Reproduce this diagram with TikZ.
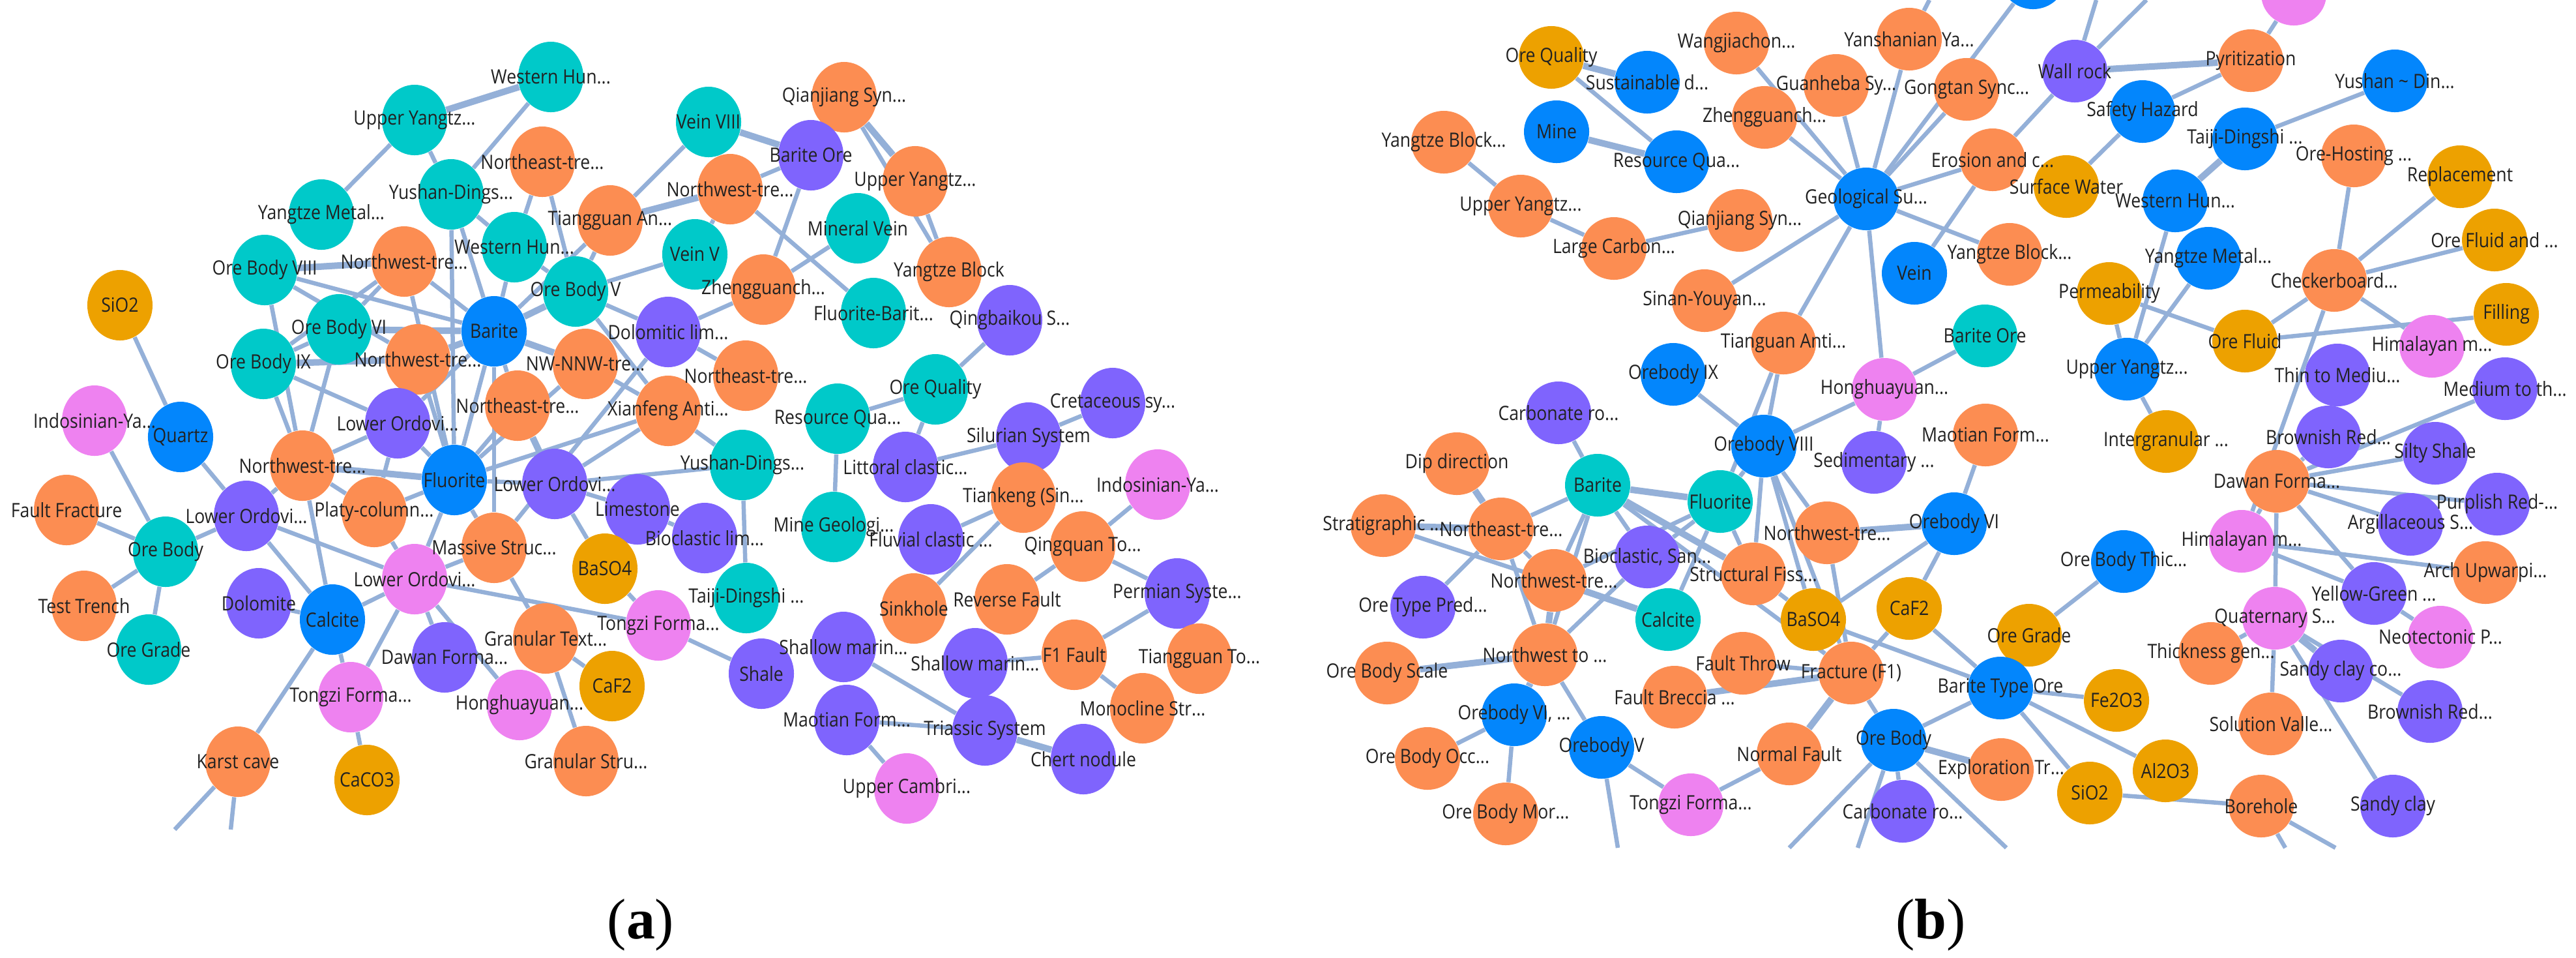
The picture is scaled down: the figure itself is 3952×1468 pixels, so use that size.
\documentclass[tikz,border=0pt]{standalone}
\usepackage{fontspec}
\setmainfont{Open Sans}[FakeStretch=0.88]
\newfontfamily\serifpl{Liberation Serif}
\usetikzlibrary{shapes.geometric}
\pgfdeclarelayer{back}\pgfdeclarelayer{bg}\pgfdeclarelayer{fg}
\pgfsetlayers{back,bg,main,fg}
\definecolor{cor}{HTML}{FC8D52}
\definecolor{cte}{HTML}{00C9C9}
\definecolor{cbl}{HTML}{0386FC}
\definecolor{cpu}{HTML}{7F64FD}
\definecolor{cpi}{HTML}{EE82F0}
\definecolor{cgo}{HTML}{EDA100}
\definecolor{cedge}{HTML}{94B0D8}
\definecolor{ctext}{HTML}{222222}
\tikzset{
 na/.style={ellipse, minimum width=1cm, minimum height=1.08cm, inner sep=0pt, draw=none},
 nb/.style={ellipse, minimum width=1cm, minimum height=0.96cm, inner sep=0pt, draw=none},
 lbl/.style={inner sep=0pt, text=ctext, font=\fontsize{8.6pt}{10pt}\selectfont},
 ed/.style={draw=cedge, line width=0.065cm},
 edt/.style={draw=cedge, line width=0.1cm},
 plab/.style={inner sep=0pt, font=\serifpl\fontsize{25pt}{30pt}\selectfont},
}
\newcommand\NA[5]{\node[na,fill=#4] (#1) at (#2,#3) {};
 \begin{pgfonlayer}{fg}\node[lbl] (#1l) at (#1.center) {#5};\end{pgfonlayer}}
\newcommand\NB[5]{\node[nb,fill=#4] (#1) at (#2,#3) {};
 \begin{pgfonlayer}{fg}\node[lbl] (#1l) at (#1.center) {#5};\end{pgfonlayer}}
\begin{document}
\begin{tikzpicture}[x=0.01cm,y=-0.01cm]
\useasboundingbox (0,0) rectangle (3952,1468);
\begin{pgfonlayer}{back}\fill[white] (0,0) rectangle (3952,1468);\end{pgfonlayer}
% ---------------- panel (a) ----------------
\NA{a1}{845}{118}{cte}{Western Hun...}
\NA{a2}{636}{184}{cte}{Upper Yangtz...}
\NA{a3}{832}{248}{cor}{Northeast-tre...}
\NA{a4}{692}{298}{cte}{Yushan-Dings...}
\NA{a5}{493}{329}{cte}{Yangtze Metal...}
\NA{a6}{936}{338}{cor}{Tiangguan An...}
\NA{a7}{789}{379}{cte}{Western Hun...}
\NA{a8}{406}{414}{cte}{Ore Body VIII}
\NA{a9}{620}{401}{cor}{Northwest-tre...}
\NA{a10}{184}{468}{cgo}{SiO2}
\NA{a11}{883}{447}{cte}{Ore Body V}
\NA{a12}{758}{508}{cbl}{Barite}
\NA{a13}{520}{505}{cte}{Ore Body VI}
\NA{a14}{641}{551}{cor}{Northwest-tre...}
\NA{a15}{404}{558}{cte}{Ore Body IX}
\NA{a16}{898}{558}{cor}{NW-NNW-tre...}
\NA{a17}{1025}{509}{cpu}{Dolomitic lim...}
\NA{a18}{794}{622}{cor}{Northeast-tre...}
\NA{a19}{610}{649}{cpu}{Lower Ordovi...}
\NA{a20}{145}{645}{cpi}{Indosinian-Ya...}
\NA{a21}{277}{670}{cbl}{Quartz}
\NA{a22}{1025}{630}{cor}{Xianfeng Anti...}
\NA{a23}{1295}{149}{cor}{Qianjiang Syn...}
\NA{a24}{1087}{187}{cte}{Vein VIII}
\NA{a25}{1244}{238}{cpu}{Barite Ore}
\NA{a26}{1404}{278}{cor}{Upper Yangtz...}
\NA{a27}{1120}{290}{cor}{Northwest-tre...}
\NA{a28}{1316}{350}{cte}{Mineral Vein}
\NA{a29}{1066}{390}{cte}{Vein V}
\NA{a30}{1456}{417}{cor}{Yangtze Block}
\NA{a31}{1171}{444}{cor}{Zhengguanch...}
\NA{a32}{1340}{480}{cte}{Fluorite-Barit...}
\NA{a33}{1549}{491}{cpu}{Qingbaikou S...}
\NA{a34}{1144}{576}{cor}{Northeast-tre...}
\NA{a35}{1435}{597}{cte}{Ore Quality}
\NA{a36}{1707}{618}{cpu}{Cretaceous sy...}
\NA{a37}{1285}{642}{cte}{Resource Qua...}
\NA{a38}{464}{714}{cor}{Northwest-tre...}
\NA{a39}{697}{736}{cbl}{Fluorite}
\NA{a40}{851}{742}{cpu}{Lower Ordovi...}
\NA{a41}{978}{781}{cpu}{Limestone}
\NA{a42}{102}{782}{cor}{Fault Fracture}
\NA{a43}{378}{791}{cpu}{Lower Ordovi...}
\NA{a44}{574}{785}{cor}{Platy-column...}
\NA{a45}{254}{846}{cte}{Ore Body}
\NA{a46}{758}{840}{cor}{Massive Struc...}
\NA{a47}{928}{872}{cgo}{BaSO4}
\NA{a48}{636}{888}{cpi}{Lower Ordovi...}
\NA{a49}{129}{929}{cor}{Test Trench}
\NA{a50}{397}{925}{cpu}{Dolomite}
\NA{a51}{510}{950}{cbl}{Calcite}
\NA{a52}{228}{996}{cte}{Ore Grade}
\NA{a53}{837}{979}{cor}{Granular Text...}
\NA{a54}{1010}{959}{cpi}{Tongzi Forma...}
\NA{a55}{682}{1008}{cpu}{Dawan Forma...}
\NA{a56}{939}{1052}{cgo}{CaF2}
\NA{a57}{538}{1069}{cpi}{Tongzi Forma...}
\NA{a58}{797}{1081}{cpi}{Honghuayuan...}
\NA{a59}{365}{1168}{cor}{Karst cave}
\NA{a60}{563}{1196}{cgo}{CaCO3}
\NA{a61}{899}{1167}{cor}{Granular Stru...}
\NA{a62}{1139}{713}{cte}{Yushan-Dings...}
\NA{a63}{1389}{716}{cpu}{Littoral clastic...}
\NA{a64}{1578}{671}{cpu}{Silurian System}
\NA{a65}{1279}{808}{cte}{Mine Geologi...}
\NA{a66}{1081}{825}{cpu}{Bioclastic lim...}
\NA{a67}{1570}{763}{cor}{Tiankeng (Sin...}
\NA{a68}{1776}{743}{cpi}{Indosinian-Ya...}
\NA{a69}{1428}{827}{cpu}{Fluvial clastic ...}
\NA{a70}{1661}{838}{cor}{Qingquan To...}
\NA{a71}{1145}{917}{cte}{Taiji-Dingshi ...}
\NA{a72}{1402}{933}{cor}{Sinkhole}
\NA{a73}{1545}{919}{cor}{Reverse Fault}
\NA{a74}{1806}{910}{cpu}{Permian Syste...}
\NA{a75}{1294}{992}{cpu}{Shallow marin...}
\NA{a76}{1168}{1033}{cpu}{Shale}
\NA{a77}{1496}{1017}{cpu}{Shallow marin...}
\NA{a78}{1648}{1004}{cor}{F1 Fault}
\NA{a79}{1840}{1010}{cor}{Tiangguan To...}
\NA{a80}{1753}{1086}{cor}{Monocline Str...}
\NA{a81}{1299}{1104}{cpu}{Maotian Form...}
\NA{a82}{1511}{1120}{cpu}{Triassic System}
\NA{a83}{1662}{1164}{cpu}{Chert nodule}
\NA{a84}{1391}{1209}{cpi}{Upper Cambri...}
\coordinate (oa1) at (268,1272);
\coordinate (oa2) at (354,1272);
% ---------------- panel (b) ----------------
\NB{b1}{2380}{88}{cgo}{Ore Quality}
\NB{b2}{2664}{66}{cor}{Wangjiachon...}
\NB{b3}{2929}{60}{cor}{Yanshanian Ya...}
\NB{b4}{2527}{126}{cbl}{Sustainable d...}
\NB{b5}{2817}{131}{cor}{Guanheba Sy...}
\NB{b6}{2388}{202}{cbl}{Mine}
\NB{b7}{2215}{218}{cor}{Yangtze Block...}
\NB{b8}{2707}{180}{cor}{Zhengguanch...}
\NB{b9}{2572}{248}{cbl}{Resource Qua...}
\NB{b10}{2333}{316}{cor}{Upper Yangtz...}
\NB{b11}{2863}{305}{cbl}{Geological Su...}
\NB{b12}{2669}{338}{cor}{Qianjiang Syn...}
\NB{b13}{2476}{381}{cor}{Large Carbon...}
\NB{b14}{2937}{419}{cbl}{Vein}
\NB{b15}{2615}{461}{cor}{Sinan-Youyan...}
\NB{b16}{2736}{526}{cor}{Tianguan Anti...}
\NB{b17}{2567}{574}{cbl}{Orebody IX}
\NB{b18}{2891}{597}{cpi}{Honghuayuan...}
\NB{b19}{2391}{633}{cpu}{Carbonate ro...}
\NB{b20}{3017}{137}{cor}{Gongtan Sync...}
\NB{b21}{3183}{109}{cpu}{Wall rock}
\NB{b22}{3453}{93}{cor}{Pyritization}
\NB{b23}{3674}{124}{cbl}{Yushan \textasciitilde\ Din...}
\NB{b24}{3287}{171}{cbl}{Safety Hazard}
\NB{b25}{3444}{213}{cbl}{Taiji-Dingshi ...}
\NB{b26}{3057}{245}{cor}{Erosion and c...}
\NB{b27}{3611}{239}{cor}{Ore-Hosting ...}
\NB{b28}{3170}{286}{cgo}{Surface Water}
\NB{b29}{3774}{271}{cgo}{Replacement}
\NB{b30}{3337}{308}{cbl}{Western Hun...}
\NB{b31}{3083}{390}{cor}{Yangtze Block...}
\NB{b32}{3827}{368}{cgo}{Ore Fluid and ...}
\NB{b33}{3388}{396}{cbl}{Yangtze Metal...}
\NB{b34}{3581}{430}{cor}{Checkerboard...}
\NB{b35}{3236}{450}{cgo}{Permeability}
\NB{b36}{3045}{515}{cte}{Barite Ore}
\NB{b37}{3845}{482}{cgo}{Filling}
\NB{b38}{3444}{523}{cgo}{Ore Fluid}
\NB{b39}{3731}{531}{cpi}{Himalayan m...}
\NB{b40}{3263}{566}{cbl}{Upper Yangtz...}
\NB{b41}{3586}{575}{cpu}{Thin to Mediu...}
\NB{b42}{3843}{596}{cpu}{Medium to th...}
\NB{b43}{2706}{684}{cbl}{Orebody VIII}
\NB{b44}{2875}{709}{cpu}{Sedimentary ...}
\NB{b45}{3046}{667}{cor}{Maotian Form...}
\NB{b46}{2235}{711}{cor}{Dip direction}
\NB{b47}{2451}{744}{cte}{Barite}
\NB{b48}{2639}{769}{cte}{Fluorite}
\NB{b49}{2122}{806}{cor}{Stratigraphic ...}
\NB{b50}{2303}{811}{cor}{Northeast-tre...}
\NB{b51}{2803}{817}{cor}{Northwest-tre...}
\NB{b52}{2998}{803}{cbl}{Orebody VI}
\NB{b53}{2527}{854}{cpu}{Bioclastic, San...}
\NB{b54}{2384}{890}{cor}{Northwest-tre...}
\NB{b55}{2690}{880}{cor}{Structural Fiss...}
\NB{b56}{2183}{931}{cpu}{Ore Type Pred...}
\NB{b57}{2559}{950}{cte}{Calcite}
\NB{b58}{2782}{950}{cgo}{BaSO4}
\NB{b59}{2929}{933}{cgo}{CaF2}
\NB{b60}{2370}{1004}{cor}{Northwest to ...}
\NB{b61}{2128}{1032}{cor}{Ore Body Scale}
\NB{b62}{2674}{1017}{cor}{Fault Throw}
\NB{b63}{2840}{1032}{cor}{Fracture (F1)}
\NB{b64}{2569}{1069}{cor}{Fault Breccia ...}
\NB{b65}{2323}{1096}{cbl}{Orebody VI, ...}
\NB{b66}{2457}{1146}{cbl}{Orebody V}
\NB{b67}{2745}{1156}{cor}{Normal Fault}
\NB{b68}{2905}{1135}{cbl}{Ore Body}
\NB{b69}{2190}{1163}{cor}{Ore Body Occ...}
\NB{b70}{2594}{1234}{cpi}{Tongzi Forma...}
\NB{b71}{2310}{1248}{cor}{Ore Body Mor...}
\NB{b72}{2919}{1244}{cpu}{Carbonate ro...}
\NB{b73}{3323}{677}{cgo}{Intergranular ...}
\NB{b74}{3572}{670}{cpu}{Brownish Red...}
\NB{b75}{3736}{695}{cpu}{Silty Shale}
\NB{b76}{3493}{738}{cor}{Dawan Forma...}
\NB{b77}{3831}{773}{cpu}{Purplish Red-...}
\NB{b78}{3698}{804}{cpu}{Argillaceous S...}
\NB{b79}{3439}{830}{cpi}{Himalayan m...}
\NB{b80}{3258}{861}{cbl}{Ore Body Thic...}
\NB{b81}{3813}{878}{cor}{Arch Upwarpi...}
\NB{b82}{3642}{910}{cpu}{Yellow-Green ...}
\NB{b83}{3490}{948}{cpi}{Quaternary S...}
\NB{b84}{3113}{974}{cgo}{Ore Grade}
\NB{b85}{3744}{977}{cpi}{Neotectonic P...}
\NB{b86}{3392}{1002}{cor}{Thickness gen...}
\NB{b87}{3591}{1029}{cpu}{Sandy clay co...}
\NB{b88}{3069}{1055}{cbl}{Barite Type Ore}
\NB{b89}{3247}{1074}{cgo}{Fe2O3}
\NB{b90}{3728}{1091}{cpu}{Brownish Red...}
\NB{b91}{3484}{1110}{cor}{Solution Valle...}
\NB{b92}{3070}{1180}{cor}{Exploration Tr...}
\NB{b93}{3322}{1182}{cgo}{Al2O3}
\NB{b94}{3206}{1216}{cgo}{SiO2}
\NB{b95}{3469}{1236}{cor}{Borehole}
\NB{b96}{3671}{1236}{cpu}{Sandy clay}
\node[nb,fill=cbl] (b97) at (3119,-34) {};
\node[nb,fill=cpi] (b98) at (3519,-9) {};
\coordinate (ot1) at (3216,0);
\coordinate (ot2) at (3293,0);
\coordinate (ot3) at (2960,0);
\coordinate (ob1) at (2482,1300);
\coordinate (ob2) at (2745,1300);
\coordinate (ob3) at (3078,1300);
\coordinate (ob4) at (3583,1300);
\coordinate (ob5) at (3506,1300);
\coordinate (ob6) at (2850,1300);
% ---------------- edges ----------------
\begin{pgfonlayer}{bg}
\foreach \u/\v in {a2/a1,a6/a27,a8/a9,a12/a11,a12/a13,a12/a14,a12/a16,a15/a14,a18/a40,a39/a38,a24/a25,a82/a83,a23/a26}
  \draw[edt] (\u) -- (\v);
\foreach \u/\v in {a1/a4,a2/a4,a2/a5,a4/a7,a4/a39,a4/a12,a3/a7,a3/a11,a6/a11,a6/a24,a6/a12,a8/a12,a8/a14,a8/a38,
  a9/a13,a9/a15,a9/a12,a9/a39,a7/a12,a7/a11,a12/a18,a12/a39,a12/a19,a12/a46,a15/a13,a15/a19,a15/a38,a13/a38,a14/a39,
  a18/a39,a39/a40,a39/a19,a39/a44,a39/a46,a39/a48,a39/a16,a39/a22,a38/a51,a38/a19,a38/a44,a19/a44,a51/a48,a10/a21,a20/a45,
  a21/a43,a42/a45,a49/a45,a52/a45,a45/a43,a43/a38,a43/a51,a43/a48,a50/a51,a51/a59,a51/a57,a57/a60,a57/a48,
  a48/a55,a48/a58,a48/a46,a48/a54,a44/a48,a46/a53,a53/a61,a53/a56,a54/a47,a54/a76,a41/a66,a40/a41,a40/a47,
  a40/a62,a40/a22,a22/a16,a11/a22,a17/a11,a17/a31,a17/a34,a17/a46,a22/a62,a31/a28,a31/a25,a29/a11,a29/a27,
  a27/a25,a27/a32,a23/a30,a26/a30,a33/a35,a35/a37,a35/a63,a37/a65,a63/a64,a64/a36,a67/a69,a67/a72,a68/a70,
  a70/a73,a70/a74,a74/a78,a74/a79,a78/a77,a78/a80,a75/a82,a77/a82,a82/a81,a81/a84,a62/a71,a59/oa1,a59/oa2}
  \draw[ed] (\u) -- (\v);
\foreach \u/\v in {b1/b4,b6/b9,b21/b22,b47/b48,b46/b50,b49/b50,b54/b57,b60/b61,b64/b63,b51/b52,b68/b92,
  b25/b30,b47/b55,b54/b60,b60/b65,b63/b67,b83/b87}
  \draw[edt] (\u) -- (\v);
\foreach \u/\v in {b1/b9,b7/b10,b10/b13,b13/b12,b2/b11,b8/b11,b5/b11,b3/b11,b20/b11,b97/b11,b26/b11,b31/b11,
  b11/b15,b11/b16,b11/b18,b16/b48,b16/b43,b17/b43,b18/b43,b18/b44,b18/b36,b19/b47,b21/b26,b22/b24,b22/b98,
  b21/ot1,b21/ot2,b3/ot3,b24/b28,b25/b23,b26/b14,b30/b40,b33/b40,b35/b40,b35/b38,b38/b34,b38/b37,b34/b27,
  b34/b29,b34/b32,b34/b39,b34/b79,b40/b73,b43/b48,b43/b55,b43/b58,b43/b51,b43/b63,b47/b53,b47/b50,b47/b54,
  b47/b60,b47/b63,b48/b57,b48/b53,b48/b54,b48/b55,b49/b57,b50/b54,b50/b60,b50/b56,b53/b60,b60/b66,b65/b69,
  b65/b71,b66/b70,b66/ob1,b70/b67,b62/b63,b55/b58,b58/b52,b59/b52,b59/b63,b51/b63,b63/b68,b68/b72,b68/b88,
  b68/ob2,b68/ob3,b68/ob6,b58/b88,b59/b88,b45/b52,b76/b74,b76/b75,b76/b77,b76/b78,b76/b42,b76/b79,b76/b82,
  b76/b83,b41/b74,b79/b81,b79/b82,b82/b85,b83/b86,b83/b90,b83/b91,b83/b96,b80/b84,b84/b88,b88/b89,b88/b93,
  b88/b94,b94/b95,b95/ob4,b95/ob5}
  \draw[ed] (\u) -- (\v);
\end{pgfonlayer}
% ---------------- panel labels ----------------
\node[plab] (labA) at (983,1418) {(\textbf{a})};
\node[plab] (labB) at (2962,1418) {(\textbf{b})};
\end{tikzpicture}
\end{document}
